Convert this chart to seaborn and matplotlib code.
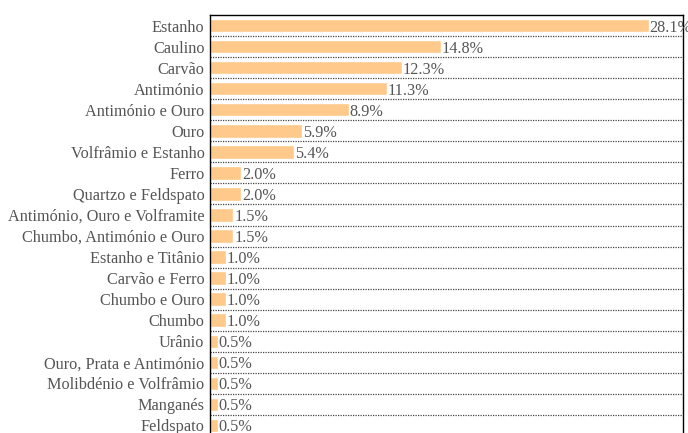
import pandas as pd
import matplotlib.pyplot as plt
import seaborn as sns

# Minérios e respetiva percentagem
minerios = ['Estanho', 'Caulino', 'Carvão', 'Antimónio', 'Antimónio e Ouro', 'Ouro',
            'Volfrâmio e Estanho', 'Ferro', 'Quartzo e Feldspato',
            'Antimónio, Ouro e Volframite', 'Chumbo, Antimónio e Ouro',
            'Estanho e Titânio', 'Carvão e Ferro', 'Chumbo e Ouro', 'Chumbo', 'Urânio',
            'Ouro, Prata e Antimónio', 'Molibdénio e Volfrâmio', 'Manganés', 'Feldspato']
percentagens = [28.1, 14.8, 12.3, 11.3, 8.9, 5.9, 5.4, 2.0, 2.0, 1.5, 1.5,
                1.0, 1.0, 1.0, 1.0, 0.5, 0.5, 0.5, 0.5, 0.5]

df = pd.DataFrame({'minerio': minerios, 'pct': percentagens})

sns.set_style('white')
plt.rcParams['font.family'] = ['Liberation Serif', 'DejaVu Serif']

fig = plt.figure(figsize=(6.88, 4.33), dpi=100)
ax = fig.add_axes([210 / 688, -3 / 433, 473 / 688, 421 / 433])

sns.barplot(data=df, x='pct', y='minerio', color='#FEC98A', saturation=1,
            width=0.64, ax=ax)

# linhas pontilhadas entre as barras
for i in range(len(minerios) - 1):
    ax.axhline(i + 0.5, color='#444444', linestyle=(0, (1, 1)), linewidth=0.9)

for i, v in enumerate(percentagens):
    ax.text(v + 0.05, i, f'{v:.1f}%', va='center_baseline', ha='left',
            fontsize=11.7, color='#555555')

ax.set_xlim(0, 30.28)
ax.set_ylim(len(minerios) - 0.5, -0.5)
ax.set_xlabel('')
ax.set_ylabel('')
ax.set_xticks([])
ax.tick_params(axis='y', length=0, pad=4, labelsize=11.7, labelcolor='#555555')
for lbl in ax.get_yticklabels():
    lbl.set_verticalalignment('center_baseline')
for side in ['top', 'left', 'right']:
    ax.spines[side].set_color('black')
    ax.spines[side].set_linewidth(1)
ax.spines['bottom'].set_visible(False)

fig.savefig('out.png', dpi=100)
